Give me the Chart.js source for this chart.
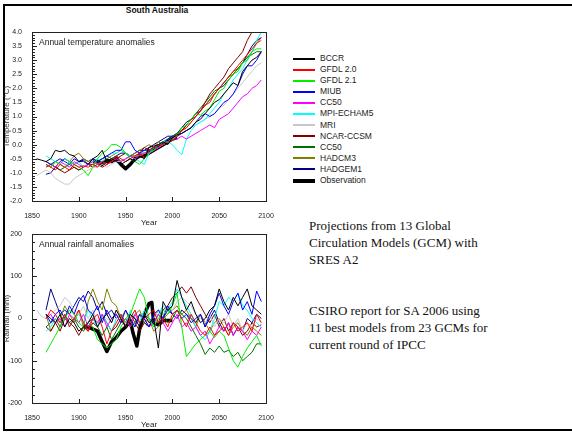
<!DOCTYPE html>
<html>
<head>
<meta charset="utf-8">
<script src="https://cdn.jsdelivr.net/npm/chart.js@4.4.1/dist/chart.umd.min.js"></script>
<style>
  html, body { margin: 0; overflow: hidden; }
  body { background: #fff; width: 572px; height: 432px; position: relative; font-family: "Liberation Sans", Arial, sans-serif; }
  .rule { position: absolute; background: #000; }
  canvas { position: absolute; }
  #title { position: absolute; left: 107px; width: 100px; top: 5px; text-align: center; font-weight: bold; font-size: 8.5px; color: #111; }
  #legend { position: absolute; left: 293px; top: 53px; width: 120px; font-size: 8.5px; color: #222; }
  .item { position: relative; height: 11.1px; }
  .item span.ln { position: absolute; left: 0; width: 22px; }
  .item span.tx { position: absolute; left: 27px; top: 0; line-height: 11px; white-space: nowrap; }
  .note { position: absolute; left: 309px; font-family: "Liberation Serif", "Times New Roman", serif; font-size: 13px; line-height: 16.8px; color: #111; white-space: nowrap; }
</style>
</head>
<body>
<div class="rule" style="left:3px;top:4px;width:569px;height:2px"></div>
<div class="rule" style="left:3px;top:4px;width:2px;height:427px"></div>
<div class="rule" style="left:3px;top:429px;width:569px;height:2px"></div>
<div id="title">South Australia</div>
<canvas id="tempChart" width="290" height="210" style="left:0;top:20px"></canvas>
<canvas id="rainChart" width="290" height="210" style="left:0;top:222px"></canvas>
<div id="legend"></div>
<div class="note" style="top:218px">Projections from 13 Global<br>Circulation Models (GCM) with<br>SRES A2</div>
<div class="note" style="top:303px">CSIRO report for SA 2006 using<br>11 best models from 23 GCMs for<br>current round of IPCC</div>
<script>
// Years on a 5-year grid, 1855..2095
const years = [];
for (let y = 1855; y <= 2095; y += 5) years.push(y);

const modelNames = ['BCCR', 'GFDL 2.0', 'GFDL 2.1', 'MIUB', 'CC50', 'MPI-ECHAM5', 'MRI', 'NCAR-CCSM', 'CC50', 'HADCM3', 'HADGEM1'];
const modelColors = ['#000000', '#ff0000', '#00ee00', '#0000ff', '#ff00ff', '#00ffff', '#c8c8c8', '#800000', '#007000', '#808000', '#000080'];

// Temperature anomalies (°C)
const tBCCR = [-0.5,-0.55,-0.6,-0.5,-0.2,-0.25,-0.2,-0.35,-0.4,-0.6,
  -0.55,-0.7,-0.5,-0.4,-0.2,-0.6,-0.5,-0.6,-0.7,-0.6,
  -0.5,-0.6,-0.4,-0.5,-0.1,-0.05,0.0,0.1,0.0,0.25,
  0.35,0.4,0.5,0.6,0.8,0.9,1.1,1.3,1.5,1.6,
  1.8,2.0,2.2,2.1,2.6,2.8,3.0,3.1,3.3];
const tGFDL20 = [null,null,-0.7,-0.8,-0.9,-0.7,-0.8,-0.9,-0.7,-0.8,
  -0.75,-0.8,-0.7,-0.8,-0.6,-0.7,-0.6,-0.4,-0.5,-0.6,
  -0.5,-0.4,-0.3,-0.45,-0.2,-0.1,0.0,0.0,0.1,0.15,
  0.3,0.5,0.6,0.8,1.0,1.2,1.4,1.5,1.8,2.0,
  2.2,2.4,2.6,2.8,3.0,3.2,3.4,3.6,3.8];
const tGFDL21 = [null,null,-0.7,-0.8,-0.6,-0.7,-0.8,-0.6,-0.7,-0.8,
  -0.9,-1.1,-0.8,-0.5,-0.3,-0.2,0.0,0.0,-0.1,-0.3,
  -0.5,-0.6,-0.7,-0.5,-0.3,-0.2,0.0,0.0,0.1,0.2,
  0.3,0.6,0.7,0.9,1.1,1.05,1.2,1.3,1.6,1.9,
  2.0,2.3,2.5,2.6,2.9,3.0,3.3,3.4,3.4];
const tMIUB = [null,null,-0.6,-0.7,-0.6,-0.5,-0.6,-0.7,-0.5,-0.6,
  -0.6,-0.7,-0.5,-0.6,-0.5,-0.4,-0.3,-0.2,-0.2,0.1,
  0.1,-0.2,-0.3,-0.2,-0.2,-0.1,0.0,0.0,0.2,0.3,
  0.3,0.4,0.5,0.6,0.8,1.0,1.1,1.0,1.1,1.3,
  1.5,1.6,1.8,2.1,2.5,2.8,2.8,3.0,3.3];
const tCC50a = [null,null,null,-0.7,-0.8,-0.6,-0.7,-0.8,-0.6,-0.7,
  -0.8,-0.7,-0.6,-0.7,-0.6,-0.7,-0.6,-0.5,-0.6,-0.5,
  -0.4,-0.5,-0.4,-0.3,-0.3,-0.2,-0.1,0.0,0.1,0.2,
  0.2,0.3,0.2,0.3,0.4,0.5,0.6,0.7,0.6,0.9,
  1.0,1.1,1.3,1.5,1.7,1.8,2.0,2.1,2.3];
const tMPI = [null,null,-0.4,-0.5,-0.6,-0.7,-0.5,-0.6,-0.7,-0.6,
  -0.8,-0.7,-0.6,-0.5,-0.6,-0.4,-0.3,-0.3,-0.2,-0.3,
  -0.4,-0.5,-0.6,-0.7,-0.3,-0.1,0.0,0.1,0.1,0.0,
  -0.2,-0.35,0.2,0.5,0.7,0.8,0.9,1.1,1.3,1.5,
  1.8,2.0,2.3,2.5,2.7,3.0,3.3,3.7,4.0];
const tMRI = [-1.1,-1.0,-0.9,-1.0,-1.2,-1.3,-1.4,-1.4,-1.2,-1.1,
  -1.0,-0.9,-0.8,-0.8,-0.7,-0.8,-0.7,-0.6,-0.6,-0.5,
  -0.5,-0.4,-0.4,-0.3,-0.3,-0.2,-0.1,0.0,0.1,0.2,
  0.3,0.4,0.5,0.6,0.7,0.8,0.9,1.0,1.1,1.3,
  1.4,1.6,1.8,2.0,2.2,2.4,2.6,2.8,2.9];
const tNCAR = [null,null,-0.8,-0.7,-0.8,-0.9,-1.0,-0.9,-0.8,-0.9,
  -0.8,-0.7,-0.8,-0.7,-0.8,-0.7,-0.6,-0.5,-0.4,-0.3,
  -0.4,-0.5,-0.3,-0.1,-0.2,-0.1,0.0,0.1,0.1,0.2,
  0.3,0.5,0.7,0.9,1.0,1.2,1.5,1.8,2.0,2.2,
  2.4,2.7,2.9,3.1,3.3,3.7,4.0,null,null];
const tCC50b = [null,null,-0.6,-0.7,-0.8,-0.9,-0.8,-0.7,-0.8,-0.9,
  -0.8,-0.7,-0.7,-0.6,-0.7,-0.6,-0.5,-0.4,-0.6,-0.5,
  -0.4,-0.4,-0.3,-0.3,-0.2,-0.1,0.0,0.1,0.2,0.3,
  0.4,0.5,0.7,0.9,1.1,1.3,1.5,1.7,1.9,2.0,
  2.2,2.4,2.6,2.7,2.9,3.1,3.2,3.3,3.3];
const tHADCM3 = [null,null,-0.7,-0.8,-0.6,-0.7,-0.5,-0.6,-0.4,-0.3,
  -0.5,-0.6,-0.5,-0.7,-0.6,-0.5,-0.4,-0.3,-0.2,-0.3,
  -0.4,-0.3,-0.2,-0.1,0.0,-0.1,0.1,0.0,0.2,0.3,
  0.4,0.5,0.6,0.8,1.0,1.2,1.4,1.6,1.8,2.0,
  2.2,2.4,2.5,2.7,2.9,3.1,3.3,3.6,3.7];
const tHADGEM1 = [null,null,-1.05,-1.0,-0.8,-0.6,-0.5,-0.6,-0.7,-0.6,
  -0.5,-0.6,-0.5,-0.6,-0.5,-0.4,-0.5,-0.4,-0.3,-0.3,
  -0.4,-0.3,-0.2,-0.2,-0.1,0.0,0.1,0.2,0.3,0.3,
  0.4,0.6,0.8,0.9,1.1,1.2,1.4,1.6,1.8,2.0,
  2.1,2.3,2.5,2.7,2.9,3.2,3.5,3.7,3.8];
const obsTempYears = [1915,1920,1925,1930,1935,1940,1945,1950,1955,1960,1965,1970,1975,1980,1985,1990,1995,2000,2005];
const obsTemp = [-0.6,-0.6,-0.7,-0.55,-0.6,-0.5,-0.7,-0.85,-0.7,-0.5,-0.4,-0.4,-0.3,-0.2,-0.1,0.0,0.1,0.2,0.25];

// Rainfall anomalies (mm)
const rBCCR = [null,null,10,0,-10,10,-20,0,-10,-30,
  -20,-10,10,-20,0,10,-10,20,0,-20,
  10,0,-20,10,-10,0,-70,40,20,30,
  90,50,20,40,10,-10,0,20,30,70,
  40,20,50,30,50,70,30,20,10];
const rGFDL20 = [null,null,0,20,10,-10,10,-20,0,20,
  -10,-30,0,10,-20,-60,-30,-10,10,-20,
  0,20,-10,0,10,20,-10,0,-20,10,
  20,0,-20,10,-10,-30,-40,-20,-40,-30,
  -20,-40,-10,-30,-20,-10,-30,10,-10];
const rGFDL21 = [null,null,-80,-60,-40,-20,0,20,10,-10,
  -20,-10,-20,-50,-60,-70,-60,-50,-20,0,
  10,40,70,50,0,-20,0,20,10,30,
  60,-20,-90,-75,-60,-50,-40,-30,-45,-30,
  -40,-70,-100,-115,-90,-70,-55,-40,-65];
const rMIUB = [null,null,10,-10,10,20,0,30,10,40,
  55,20,10,30,-10,20,0,10,-10,20,
  0,-20,10,0,-20,10,20,0,30,10,
  20,0,10,-10,0,10,-20,10,30,60,
  30,10,40,60,20,40,10,65,40];
const rCC50a = [null,null,0,10,-10,0,-20,10,0,-10,
  10,-20,0,-10,10,-20,0,10,-10,0,
  -20,10,-10,0,-20,-10,10,-10,-30,-10,
  10,-20,-10,-30,-20,-40,-30,-60,-40,-20,
  -30,-10,-40,-20,-30,-50,-30,-40,-20];
const rMPI = [null,null,-30,-20,0,-10,10,-20,0,10,
  -10,20,0,-20,10,-10,-30,0,10,-20,
  20,0,-10,20,0,-20,10,30,20,40,
  70,50,30,10,-20,-40,-50,-30,0,40,
  30,50,40,60,30,20,0,-10,-20];
const rMRI = [20,5,0,10,20,30,50,40,20,10,
  30,0,20,-10,10,0,-10,20,0,-10,
  10,-20,0,10,-10,0,20,10,30,20,
  40,50,40,30,10,0,-10,10,-20,0,
  -10,10,-20,0,-30,-10,-20,0,-10];
const rNCAR = [null,null,-20,-30,-10,-30,0,-10,-20,-40,
  -20,-30,-10,-20,10,-10,-30,-20,0,-20,
  10,-10,-30,-10,-20,0,-10,20,30,50,
  60,75,60,75,50,30,10,-10,10,-20,
  0,-30,-10,-20,-40,-30,-10,-20,-15];
const rCC50b = [null,null,-20,-10,0,-20,10,-10,0,-20,
  -30,-10,0,-20,-40,-20,-50,-30,-10,0,
  -20,-10,10,-10,-20,0,20,10,-10,0,
  20,10,0,-20,-40,-60,-85,-70,-80,-65,
  -80,-75,-90,-80,-100,-90,-80,-60,-60];
const rHADCM3 = [null,null,10,-30,-10,0,30,10,-10,20,
  -20,40,70,40,20,70,40,30,0,20,
  -10,10,20,-10,0,-30,-20,0,10,20,
  30,10,20,0,-20,10,-10,-30,-10,0,
  -20,-40,-20,-10,-30,-40,-20,-30,-40];
const rHADGEM1 = [null,null,20,70,40,10,20,10,30,50,
  40,65,50,20,40,10,20,0,10,-10,
  10,0,-10,10,0,-10,10,0,20,10,
  0,20,10,0,-10,10,-20,0,20,-10,
  -30,-10,-40,-20,-30,0,-10,10,0];
const obsRainYears = [1905,1910,1915,1920,1925,1930,1935,1940,1945,1950,1955,1958,1962,1965,1970,1975,1978,1980,1985,1990,1995,2000];
const obsRain = [-20,-20,-25,-30,-55,-78,-55,-45,-30,-20,-5,-35,-65,-25,10,35,38,-10,-15,-5,-5,-5];

const tempSeries = [tBCCR, tGFDL20, tGFDL21, tMIUB, tCC50a, tMPI, tMRI, tNCAR, tCC50b, tHADCM3, tHADGEM1];
const rainSeries = [rBCCR, rGFDL20, rGFDL21, rMIUB, rCC50a, rMPI, rMRI, rNCAR, rCC50b, rHADCM3, rHADGEM1];

const FONT = '"Liberation Sans", Arial, sans-serif';

function pts(xs, ys) {
  return xs.map((x, i) => ({ x: x, y: ys[i] == null ? null : ys[i] }));
}

function buildDatasets(series, obsYears, obs) {
  const ds = series.map((s, i) => ({
    label: modelNames[i],
    data: pts(years, s),
    borderColor: modelColors[i],
    borderWidth: 1,
    pointRadius: 0,
    tension: 0
  }));
  ds.push({
    label: 'Observation',
    data: pts(obsYears, obs),
    borderColor: '#000',
    borderWidth: 3.5,
    borderJoinStyle: 'round',
    pointRadius: 0,
    tension: 0
  });
  return ds;
}

// frame, inward ticks and inner label
const framePlugin = {
  id: 'frame',
  afterDraw(chart, args, opts) {
    const { ctx, chartArea: a, scales: { x, y } } = chart;
    ctx.save();
    ctx.strokeStyle = '#222';
    ctx.lineWidth = 1;
    ctx.strokeRect(Math.round(a.left) + 0.5, Math.round(a.top) + 0.5, Math.round(a.right - a.left), Math.round(a.bottom - a.top));
    ctx.beginPath();
    const n = Math.round((y.max - y.min) / opts.minor);
    for (let k = 0; k <= n; k++) {
      const v = y.min + k * opts.minor;
      const p = Math.round(y.getPixelForValue(v)) + 0.5;
      const r = v / opts.major;
      const major = Math.abs(r - Math.round(r)) < 1e-6;
      ctx.moveTo(a.left, p);
      ctx.lineTo(a.left + (major ? 5 : 3), p);
    }
    x.ticks.forEach(t => {
      const p = Math.round(x.getPixelForValue(t.value)) + 0.5;
      ctx.moveTo(p, a.bottom);
      ctx.lineTo(p, a.bottom - 4);
    });
    ctx.stroke();
    ctx.fillStyle = '#222';
    ctx.font = '8.5px ' + FONT;
    ctx.textBaseline = 'middle';
    ctx.fillText(opts.label, a.left + 7, a.top + 11);
    ctx.restore();
  }
};

function makeChart(id, datasets, yMin, yMax, yStep, yTitle, label, minor, fmt) {
  return new Chart(document.getElementById(id).getContext('2d'), {
    type: 'line',
    data: { datasets: datasets },
    options: {
      responsive: false,
      animation: false,
      layout: { padding: { top: 12, right: 24, left: 0, bottom: 0 } },
      plugins: {
        legend: { display: false },
        tooltip: { enabled: false },
        frame: { label: label, minor: minor, major: yStep }
      },
      scales: {
        x: {
          type: 'linear',
          min: 1850, max: 2100,
          grid: { display: false },
          border: { display: false },
          ticks: { stepSize: 50, font: { size: 7, family: FONT }, color: '#222', padding: 3, maxRotation: 0, callback: v => String(v) },
          title: { display: true, text: 'Year', font: { size: 8, family: FONT }, color: '#222', padding: { top: 0, bottom: 2 } },
          afterFit: s => { s.height = 29; }
        },
        y: {
          min: yMin, max: yMax,
          grid: { display: false },
          border: { display: false },
          ticks: { stepSize: yStep, font: { size: 7, family: FONT }, color: '#222', padding: 2, callback: fmt },
          title: { display: true, text: yTitle, font: { size: 8, family: FONT }, color: '#333', padding: { top: 2, bottom: 0 } },
          afterFit: s => { s.width = 32; }
        }
      }
    },
    plugins: [framePlugin]
  });
}

makeChart('tempChart', buildDatasets(tempSeries, obsTempYears, obsTemp), -2, 4, 0.5,
  'Temperature (°C)', 'Annual temperature anomalies', 0.1, v => v.toFixed(1));
makeChart('rainChart', buildDatasets(rainSeries, obsRainYears, obsRain), -200, 200, 100,
  'Rainfall (mm)', 'Annual rainfall anomalies', 20, v => String(v));

// legend
const legend = document.getElementById('legend');
modelNames.concat(['Observation']).forEach((name, i) => {
  const obs = i === modelNames.length;
  const item = document.createElement('div');
  item.className = 'item';
  const h = obs ? 4 : 2;
  item.innerHTML = '<span class="ln" style="top:' + (5.5 - h / 2) + 'px;height:' + h + 'px;background:' +
    (obs ? '#000' : modelColors[i]) + '"></span><span class="tx">' + name + '</span>';
  legend.appendChild(item);
});
</script>
</body>
</html>
